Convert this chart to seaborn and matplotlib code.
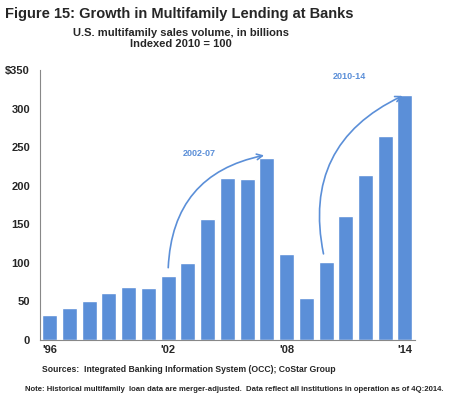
import matplotlib.pyplot as plt
import seaborn as sns
import pandas as pd

years = list(range(1996, 2015))
volume = [32, 41, 51, 61, 68, 67, 83, 100, 157, 210, 208, 236, 111, 54, 101, 160, 214, 264, 317]
tick_years = {1996: "'96", 2002: "'02", 2008: "'08", 2014: "'14"}

df = pd.DataFrame({"year": years, "volume": volume})

sns.set_style("white")
plt.rcParams['font.family'] = ['Liberation Sans', 'DejaVu Sans']
fig = plt.figure(figsize=(4.63, 4.07), dpi=100)
ax = fig.add_axes([0.086, 0.165, 0.81, 0.663])
sns.barplot(data=df, x="year", y="volume", color="#5b8fd8", saturation=1, width=0.76, ax=ax)

ax.set_ylim(0, 350)
ax.set_yticks(range(0, 351, 50))
ax.set_yticklabels([str(v) if v < 350 else "$350" for v in range(0, 351, 50)], fontsize=8, fontweight='bold')
ax.set_xticks(range(len(years)))
ax.set_xticklabels([tick_years.get(y, "") for y in years], fontsize=8, fontweight='bold')
ax.tick_params(axis='y', length=3, direction='out', color='#888888', pad=4)
ax.tick_params(axis='x', length=0)
ax.set_xlabel("")
ax.set_ylabel("")
for s in ['top', 'right']:
    ax.spines[s].set_visible(False)
for s in ['left', 'bottom']:
    ax.spines[s].set_color('#888888')

arrow = dict(arrowstyle='->', color='#5b8fd8', lw=1.2, connectionstyle='arc3,rad=-0.4')
ax.annotate("", xy=(11, 240), xytext=(6, 90), arrowprops=arrow)
ax.annotate("", xy=(18, 318), xytext=(13.9, 108), arrowprops=arrow)
ax.text(7.6, 238, "2002-07", color='#5b8fd8', fontsize=6.5, fontweight='bold', ha='center')
ax.text(15.2, 338, "2010-14", color='#5b8fd8', fontsize=6.5, fontweight='bold', ha='center')

fig.text(0.01, 0.955, "Figure 15: Growth in Multifamily Lending at Banks", fontsize=10.5, fontweight='bold')
fig.text(0.39, 0.885, "U.S. multifamily sales volume, in billions\nIndexed 2010 = 100",
         fontsize=8, fontweight='bold', ha='center', linespacing=1.1)
fig.text(0.09, 0.085, "Sources:  Integrated Banking Information System (OCC); CoStar Group", fontsize=6.2, fontweight='bold')
fig.text(0.055, 0.04, "Note: Historical multifamily  loan data are merger-adjusted.  Data reflect all institutions in operation as of 4Q:2014.",
         fontsize=5.6, fontweight='bold')

fig.savefig("out.png", dpi=100)
